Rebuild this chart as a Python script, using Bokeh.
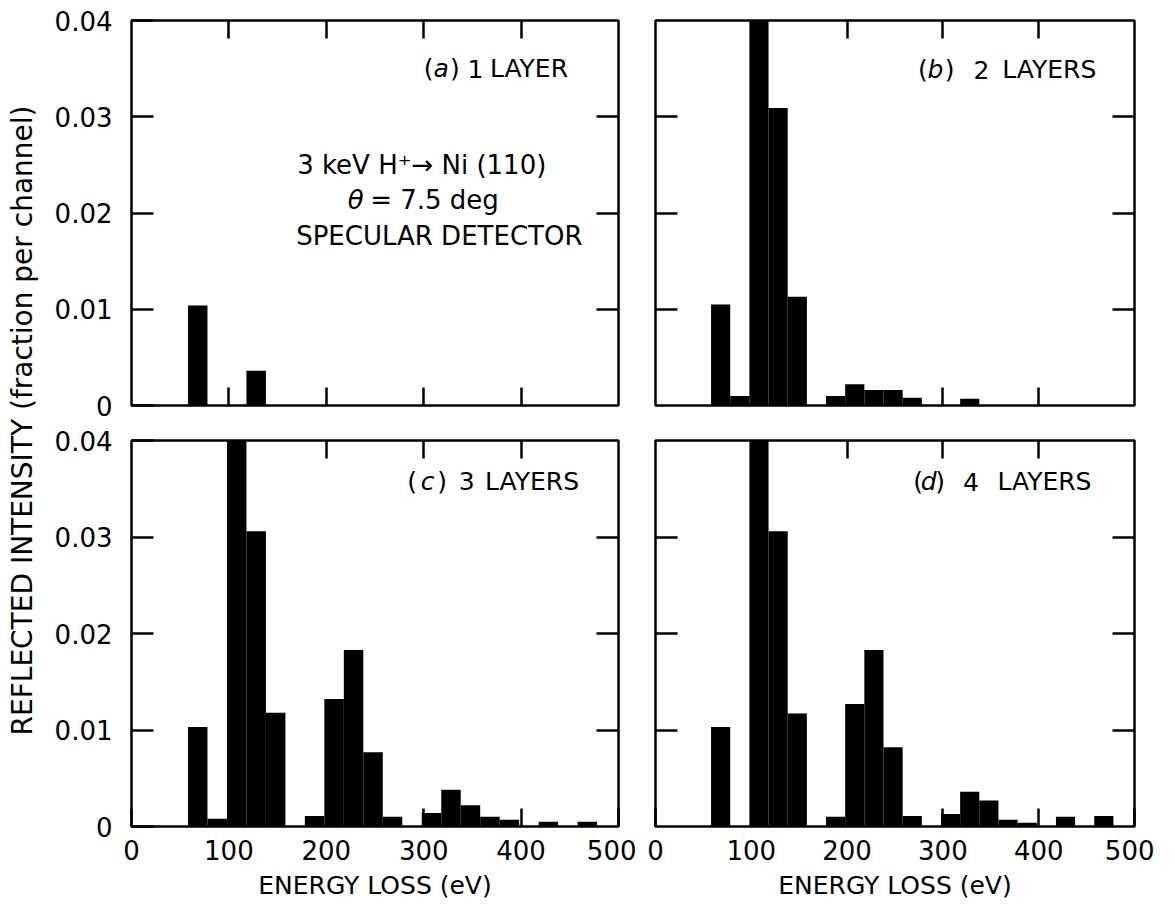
import math
from bokeh.plotting import figure
from bokeh.models import Range1d, LinearAxis, FixedTicker, CustomJSTickFormatter, Label
from bokeh.layouts import row, column
from bokeh.embed import file_html
from bokeh.resources import INLINE

FONT = "DejaVu Sans"

# ---------------- data ----------------
# energy-loss channel centres (eV), channel width 20 eV
bin_centers = [68, 88, 108, 128, 148, 168, 188, 208, 228, 248, 268,
               288, 308, 328, 348, 368, 388, 408, 428, 448, 468]
bin_width = 20

# reflected intensity (fraction per channel); bars above 0.04 run off the top
layer1 = [0.0104, 0, 0, 0.0036, 0, 0, 0, 0, 0, 0, 0,
          0, 0, 0, 0, 0, 0, 0, 0, 0, 0]
layer2 = [0.0105, 0.0010, 0.0450, 0.0309, 0.0113, 0, 0.0010, 0.0022, 0.0016, 0.0016, 0.0008,
          0, 0, 0.0007, 0, 0, 0, 0, 0, 0, 0]
layer3 = [0.0103, 0.0008, 0.0450, 0.0306, 0.0118, 0, 0.0011, 0.0132, 0.0183, 0.0077, 0.0010,
          0, 0.0014, 0.0038, 0.0022, 0.0010, 0.0007, 0, 0.0005, 0, 0.0005]
layer4 = [0.0103, 0, 0.0450, 0.0306, 0.0117, 0, 0.0010, 0.0127, 0.0183, 0.0082, 0.0011,
          0, 0.0013, 0.0036, 0.0027, 0.0007, 0.0004, 0, 0.0010, 0, 0.0011]

x_ticks = [0, 100, 200, 300, 400, 500]
y_ticks = [0, 0.01, 0.02, 0.03, 0.04]

x_title = "ENERGY LOSS (eV)"
y_title = "REFLECTED INTENSITY (fraction per channel)"

# panel tags: pieces (text, italic?, left x in eV), y in data units
tags = {
    "a": ([("(", False, 300), ("a", True, 310), (")", False, 327), ("1", False, 345), ("LAYER", False, 368)], 0.0350),
    "b": ([("(", False, 274), ("b", True, 284), (")", False, 302), ("2", False, 332), ("LAYERS", False, 362)], 0.0349),
    "c": ([("(", False, 283), ("c", True, 297), (")", False, 314), ("3", False, 336), ("LAYERS", False, 363)], 0.0358),
    "d": ([("(", False, 269), ("d", True, 277), (")", False, 292), ("4", False, 321), ("LAYERS", False, 357)], 0.0357),
}

TICK_FS = "26px"
TEXT_FS = "25px"


def make_axis(ticks, labelled, tick_len, standoff):
    ax = LinearAxis(ticker=FixedTicker(ticks=ticks))
    ax.axis_line_color = None
    ax.major_tick_in = tick_len
    ax.major_tick_out = 0
    ax.minor_tick_in = 0
    ax.minor_tick_out = 0
    ax.major_tick_line_width = 2.5
    ax.major_tick_line_color = "black"
    ax.major_label_text_font = FONT
    ax.major_label_text_color = "black"
    if labelled:
        ax.major_label_text_font_size = TICK_FS
        ax.major_label_standoff = standoff
    else:
        ax.formatter = CustomJSTickFormatter(code="return '';")
        ax.major_label_text_font_size = "1px"
        ax.major_label_standoff = 0
    return ax


def panel(values, tag, left_labels, bottom_labels, frame_w, frame_h, borders):
    bl, br, bt, bb = borders
    p = figure(width=bl + frame_w + br, height=bt + frame_h + bb,
               x_range=Range1d(0, 500), y_range=Range1d(0, 0.04),
               toolbar_location=None, output_backend="svg",
               x_axis_location=None, y_axis_location=None,
               min_border_left=bl, min_border_right=br,
               min_border_top=bt, min_border_bottom=bb)
    p.grid.visible = False
    p.outline_line_color = "black"
    p.outline_line_width = 2.5
    p.background_fill_color = "white"
    p.border_fill_color = "white"

    p.vbar(x=bin_centers, top=values, width=bin_width, bottom=0,
           fill_color="black", line_color=None)

    left = make_axis(y_ticks if left_labels else y_ticks[1:-1], left_labels, 22, 19)
    if left_labels:
        left.formatter = CustomJSTickFormatter(code="return tick == 0 ? '0' : tick.toFixed(2);")
    right = make_axis(y_ticks[1:-1], False, 22, 0)
    bottom = make_axis(x_ticks if bottom_labels else x_ticks[1:-1], bottom_labels, 18, 13)
    top = make_axis(x_ticks[1:-1], False, 18, 0)
    if bottom_labels:
        bottom.axis_label = x_title
        bottom.axis_label_text_font = FONT
        bottom.axis_label_text_font_size = "25px"
        bottom.axis_label_text_font_style = "normal"
        bottom.axis_label_text_color = "black"
        bottom.axis_label_standoff = 8
    p.add_layout(left, "left")
    p.add_layout(right, "right")
    p.add_layout(bottom, "below")
    p.add_layout(top, "above")

    pieces, ty = tags[tag]
    for txt, ital, tx in pieces:
        p.add_layout(Label(x=tx, y=ty, text=txt, text_font=FONT, text_font_size=TEXT_FS,
                           text_font_style="italic" if ital else "normal",
                           text_align="left", text_baseline="middle", text_color="black"))
    return p


FW_L, FW_R = 487, 479
FH_T, FH_B = 385, 386

pa = panel(layer1, "a", True, False, FW_L, FH_T, (83, 18, 20, 17))
pb = panel(layer2, "b", False, False, FW_R, FH_T, (19, 20, 20, 17))
pc = panel(layer3, "c", True, True, FW_L, FH_B, (83, 18, 18, 90))
pd = panel(layer4, "d", False, True, FW_R, FH_B, (19, 20, 18, 90))

# experiment annotation in panel (a)
pa.add_layout(Label(x=298, y=0.0250, text="3 keV H\u207a\u2192 Ni (110)", text_font=FONT,
                    text_font_size="26px", text_align="center", text_baseline="middle",
                    text_color="black"))
pa.add_layout(Label(x=222, y=0.0213, text="\u03b8", text_font=FONT, text_font_size="26px",
                    text_font_style="italic", text_align="left", text_baseline="middle",
                    text_color="black"))
pa.add_layout(Label(x=245, y=0.0213, text="= 7.5 deg", text_font=FONT, text_font_size="26px",
                    text_align="left", text_baseline="middle", text_color="black"))
pa.add_layout(Label(x=316, y=0.0176, text="SPECULAR DETECTOR", text_font=FONT,
                    text_font_size="26px", text_align="center", text_baseline="middle",
                    text_color="black"))

# shared y title
YL_H = 916
ylab = figure(width=48, height=YL_H, x_range=Range1d(0, 48), y_range=Range1d(0, YL_H),
              toolbar_location=None, output_backend="svg",
              x_axis_location=None, y_axis_location=None, min_border=0)
ylab.grid.visible = False
ylab.outline_line_color = None
ylab.add_layout(Label(x=22, y=YL_H - 420, text=y_title, angle=math.pi / 2, text_font=FONT,
                      text_font_size="28px", text_align="center", text_baseline="middle",
                      text_color="black"))

layout = row(ylab, column(row(pa, pb), row(pc, pd)))

open("out.html", "w").write(file_html(layout, INLINE))
